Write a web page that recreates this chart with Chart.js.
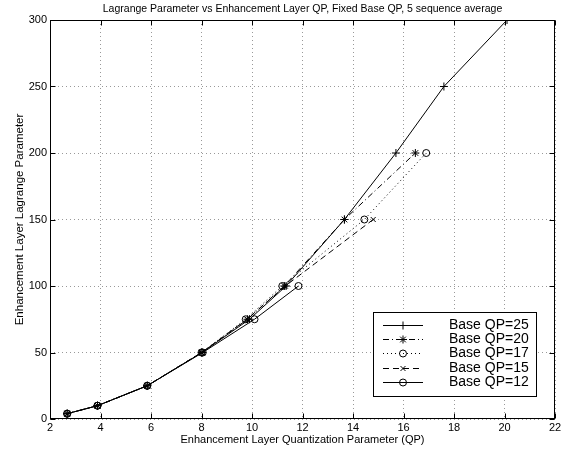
<!DOCTYPE html>
<html>
<head>
<meta charset="utf-8">
<script src="https://cdn.jsdelivr.net/npm/chart.js@4/dist/chart.umd.min.js"></script>
<style>
html,body{margin:0;padding:0;background:#fff;}
#wrap{width:568px;height:452px;}
</style>
</head>
<body>
<div id="wrap"><canvas id="c" width="568" height="452"></canvas></div>
<script>
// ---- data ----
const lambdaValues = [4, 10, 25, 50, 75, 100, 150, 200, 250, 300];
const qp25 = [2.68, 3.88, 5.85, 8.02, 9.90, 11.35, 13.66, 15.70, 17.60, 20.10];
const qp20 = [2.68, 3.88, 5.85, 8.02, 9.82, 11.28, 13.66, 16.47];
const qp17 = [2.68, 3.88, 5.85, 8.00, 9.75, 11.20, 14.45, 16.90];
const qp15 = [2.68, 3.88, 5.85, 8.00, 9.80, 11.32, 14.80];
const qp12 = [2.68, 3.88, 5.85, 8.05, 10.10, 11.84];
const seriesLabels = ['Base QP=25', 'Base QP=20', 'Base QP=17', 'Base QP=15', 'Base QP=12'];
const xTicks = [2, 4, 6, 8, 10, 12, 14, 16, 18, 20, 22];
const yTicks = [0, 50, 100, 150, 200, 250, 300];
const chartTitle = 'Lagrange Parameter vs Enhancement Layer QP, Fixed Base QP, 5 sequence average';
const xTitle = 'Enhancement Layer Quantization Parameter (QP)';
const yTitle = 'Enhancement Layer Lagrange Parameter';

const FONT = '"Liberation Sans", Arial, Helvetica, sans-serif';

function pts(xs) { return xs.map((x, i) => ({x: x, y: lambdaValues[i]})); }

const styles = [
  {dash: [], point: 'cross', r: 4},
  {dash: [6, 3, 1, 3], point: 'star', r: 4},
  {dash: [1, 3], point: 'circle', r: 3.5},
  {dash: [6, 4], point: 'crossRot', r: 3.5},
  {dash: [], point: 'circle', r: 3.5}
];
const allSeries = [qp25, qp20, qp17, qp15, qp12];

const datasets = allSeries.map((s, i) => ({
  label: seriesLabels[i],
  data: pts(s),
  borderColor: '#000',
  borderWidth: 1,
  borderDash: styles[i].dash,
  pointStyle: styles[i].point,
  pointRadius: styles[i].r,
  pointBorderColor: '#000',
  pointBackgroundColor: 'rgba(0,0,0,0)',
  pointBorderWidth: 1,
  fill: false,
  tension: 0,
  showLine: true
}));

const framePlugin = {
  id: 'frame',
  afterDraw(chart) {
    const ctx = chart.ctx;
    const a = chart.chartArea;
    const xs = chart.scales.x, ys = chart.scales.y;
    ctx.save();
    ctx.strokeStyle = '#000';
    ctx.lineWidth = 1;
    ctx.setLineDash([]);
    // box
    const L = Math.round(a.left) + 0.5, R = Math.round(a.right) - 0.5;
    const T = Math.round(a.top) + 0.5, B = Math.round(a.bottom) - 0.5;
    ctx.strokeRect(L, T, R - L, B - T);
    // inward ticks
    ctx.beginPath();
    xTicks.forEach(v => {
      const p = Math.round(xs.getPixelForValue(v)) + 0.5;
      ctx.moveTo(p, B); ctx.lineTo(p, B - 5);
      ctx.moveTo(p, T); ctx.lineTo(p, T + 5);
    });
    yTicks.forEach(v => {
      const p = Math.round(ys.getPixelForValue(v)) + 0.5;
      ctx.moveTo(L, p); ctx.lineTo(L + 5, p);
      ctx.moveTo(R, p); ctx.lineTo(R - 5, p);
    });
    ctx.stroke();
    // title
    ctx.fillStyle = '#000';
    ctx.font = '10.5px ' + FONT;
    ctx.textAlign = 'center';
    ctx.textBaseline = 'middle';
    ctx.fillText(chartTitle, (a.left + a.right) / 2, 9);
    // legend
    const bx = 373, by = 312, bw = 163, bh = 84;
    ctx.fillStyle = '#fff';
    ctx.fillRect(bx, by, bw, bh);
    ctx.strokeRect(bx + 0.5, by + 0.5, bw, bh);
    ctx.font = '14px ' + FONT;
    ctx.textAlign = 'left';
    chart.data.datasets.forEach((ds, i) => {
      const y = Math.round(324.5 + i * 14.4) + 0.5;
      ctx.strokeStyle = '#000';
      ctx.lineWidth = 1;
      ctx.setLineDash(ds.borderDash || []);
      ctx.beginPath();
      ctx.moveTo(383, y); ctx.lineTo(423, y);
      ctx.stroke();
      ctx.setLineDash([]);
      if (Chart.helpers && Chart.helpers.drawPoint) {
        ctx.fillStyle = 'rgba(0,0,0,0)';
        Chart.helpers.drawPoint(ctx, {pointStyle: ds.pointStyle, radius: ds.pointRadius, rotation: 0, borderWidth: 1}, 403, y);
      }
      ctx.fillStyle = '#000';
      ctx.fillText(ds.label, 449, y);
    });
    ctx.restore();
  }
};

new Chart(document.getElementById('c'), {
  type: 'scatter',
  data: {datasets: datasets},
  plugins: [framePlugin],
  options: {
    responsive: false,
    animation: false,
    layout: {padding: {top: 20, right: 13, left: 0, bottom: 0}},
    plugins: {legend: {display: false}, title: {display: false}, tooltip: {enabled: false}},
    scales: {
      x: {
        type: 'linear', min: 2, max: 22,
        afterBuildTicks(scale) { scale.ticks = xTicks.map(v => ({value: v})); },
        afterFit(scale) { scale.height = 33; },
        ticks: {color: '#000', font: {family: FONT, size: 11}, padding: 2, maxRotation: 0, autoSkip: false},
        grid: {color: 'rgba(0,0,0,0.4)', lineWidth: 1, drawTicks: false},
        border: {display: false, dash: [1, 3]},
        title: {display: true, text: xTitle, color: '#000', font: {family: FONT, size: 11}, padding: {top: 0, bottom: 5}}
      },
      y: {
        type: 'linear', min: 0, max: 300,
        afterBuildTicks(scale) { scale.ticks = yTicks.map(v => ({value: v})); },
        afterFit(scale) { scale.width = 50; },
        ticks: {color: '#000', font: {family: FONT, size: 11}, padding: 3, autoSkip: false},
        grid: {color: 'rgba(0,0,0,0.4)', lineWidth: 1, drawTicks: false},
        border: {display: false, dash: [1, 3]},
        title: {display: true, text: yTitle, color: '#000', font: {family: FONT, size: 11.5}, padding: {top: 13, bottom: 0}}
      }
    }
  }
});
</script>
</body>
</html>
